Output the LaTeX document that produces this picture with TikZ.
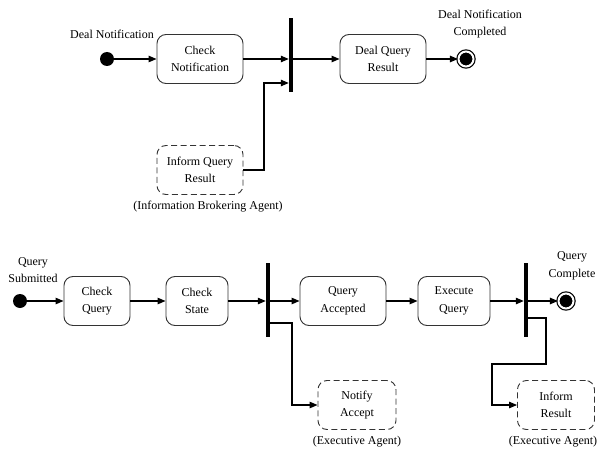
\documentclass[tikz,border=0pt]{standalone}
\usepackage{fontspec}
\setmainfont{Liberation Serif}
\usetikzlibrary{arrows.meta}

\tikzset{
	act/.style={draw=black!80, line width=0.9pt, rounded corners=9pt, minimum height=49pt, align=center, inner sep=2pt, font=\fontsize{12}{17.5}\selectfont},
	agent/.style={act, dash pattern=on 6pt off 3.5pt},
	bar/.style={fill=black, minimum width=4pt, minimum height=74pt, inner sep=0pt},
	start/.style={circle, fill=black, minimum size=14pt, inner sep=0pt},
	final/.style={circle, draw=black, fill=black, line width=1.2pt, double=white, double distance=2pt, minimum size=15pt, inner sep=0pt},
	lbl/.style={align=center, font=\fontsize{12}{17.5}\selectfont},
	arr/.style={-{Triangle[length=8pt,width=6.5pt]}, line width=1.1pt}
}

\begin{document}
\begin{tikzpicture}[x=1pt,y=-1pt]
			\useasboundingbox (0,0) rectangle (597,452);
			% Sơ đồ trên
			\node[start] (s1) at (107,59) {};
			\node[lbl] (ls1) at (112,34) {Deal Notification};
			\node[act, minimum width=86pt] (chk) at (200,59) {Check\\Notification};
			\node[bar] (bar1) at (291,55) {};
			\node[agent, minimum width=86pt] (iqr) at (200,170) {Inform Query\\Result};
			\node[lbl] (liqr) at (208,207) {(Information Brokering Agent)};
			\node[act, minimum width=86pt] (dqr) at (383,59) {Deal Query\\Result};
			\node[final] (f1) at (466,59) {};
			\node[lbl] (lf1) at (480,24) {Deal Notification\\Completed};
			\coordinate (k1) at (264,83);
			\draw[arr] (s1) -- (chk);
			\draw[arr] (chk.east) -- (chk.east -| bar1.west);
			\draw[arr] (iqr.east) -| (k1) -- (k1 -| bar1.west);
			\draw[arr] (dqr.west -| bar1.east) -- (dqr.west);
			\draw[arr] (dqr) -- (f1);
			% Sơ đồ dưới
			\node[start] (s2) at (20,301) {};
			\node[lbl] (ls2) at (33,270) {Query\\Submitted};
			\node[act, minimum width=66pt] (cq) at (97,301) {Check\\Query};
			\node[act, minimum width=62pt] (cs) at (197,301) {Check\\State};
			\node[bar] (bar2) at (268,300) {};
			\node[act, minimum width=86pt] (qa) at (343,301) {Query\\Accepted};
			\node[act, minimum width=72pt] (eq) at (454,301) {Execute\\Query};
			\node[bar] (bar3) at (526,300) {};
			\node[final] (f2) at (566,301) {};
			\node[lbl] (lf2) at (572,266) {Query\\Complete};
			\node[agent, minimum width=78pt] (na) at (357,405) {Notify\\Accept};
			\node[lbl] (lna) at (357,442) {(Executive Agent)};
			\node[agent, minimum width=77pt] (ir) at (556,405) {Inform\\Result};
			\node[lbl] (lir) at (553,442) {(Executive Agent)};
			\coordinate (k2) at (292,323);
			\coordinate (k3) at (546,318);
			\coordinate (k4) at (492,364);
			\draw[arr] (s2) -- (cq);
			\draw[arr] (cq) -- (cs);
			\draw[arr] (cs.east) -- (cs.east -| bar2.west);
			\draw[arr] (qa.west -| bar2.east) -- (qa.west);
			\draw[arr] (qa) -- (eq);
			\draw[arr] (eq.east) -- (eq.east -| bar3.west);
			\draw[arr] (f2.west -| bar3.east) -- (f2);
			\draw[arr] (k2 -| bar2.east) -- (k2) |- (na.west);
			\draw[arr] (k3 -| bar3.east) -- (k3) |- (k4) |- (ir.west);
		\end{tikzpicture}
\end{document}
